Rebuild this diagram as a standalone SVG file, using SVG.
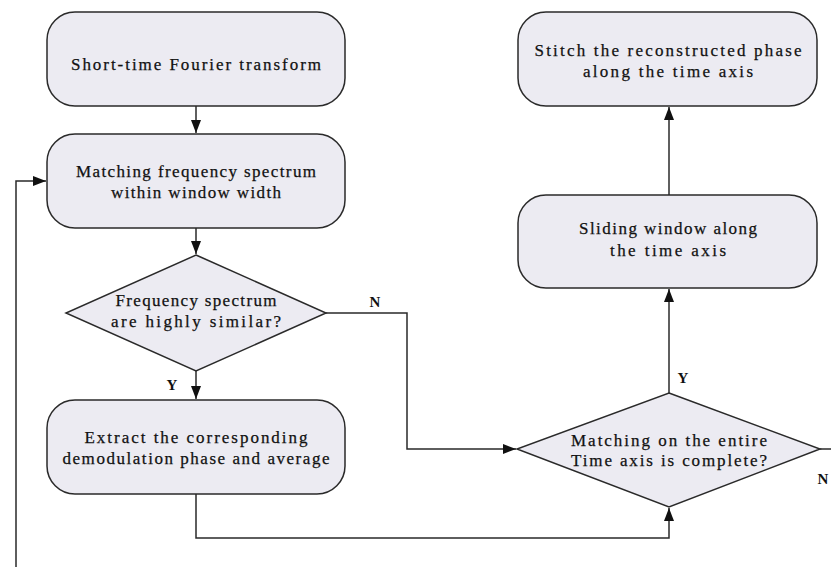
<svg xmlns="http://www.w3.org/2000/svg" width="831" height="567" viewBox="0 0 831 567">
<style>
.node{fill:#ecebf2;stroke:#2a2a2a;stroke-width:1.5}
.t{font-family:"Liberation Serif",serif;font-size:17px;fill:#111;stroke:#111;stroke-width:0.25;text-anchor:middle}
.lbl{font-family:"Liberation Serif",serif;font-size:15px;font-weight:bold;fill:#111;text-anchor:middle}
.c{fill:none;stroke:#2a2a2a;stroke-width:1.5}
</style>
<defs>
<marker id="arr" markerUnits="userSpaceOnUse" markerWidth="14" markerHeight="10" refX="13" refY="5" orient="auto">
<path d="M0,0 L13,5 L0,10 Z" fill="#111"/>
</marker>
</defs>
<rect width="831" height="567" fill="#fff"/>
<g id="connectors">
<path class="c" d="M196,106 V133" marker-end="url(#arr)"/>
<path class="c" d="M196,228 V254" marker-end="url(#arr)"/>
<path class="c" d="M196,371 V399" marker-end="url(#arr)"/>
<path class="c" d="M326,313 H407 V449 H516" marker-end="url(#arr)"/>
<path class="c" d="M196,494 V538 H669 V508" marker-end="url(#arr)"/>
<path class="c" d="M669,393 V289" marker-end="url(#arr)"/>
<path class="c" d="M669,195 V107" marker-end="url(#arr)"/>
<path class="c" d="M820,449 H831"/>
<path class="c" d="M16,567 V181 H46" marker-end="url(#arr)"/>
<text class="lbl" x="375" y="307">N</text>
<text class="lbl" x="172" y="390">Y</text>
<text class="lbl" x="683" y="383">Y</text>
<text class="lbl" x="823" y="484">N</text>
</g>
<g id="stft">
<rect class="node" x="47" y="12" width="298" height="94" rx="28"/>
<text class="t" x="196" y="70" textLength="250" lengthAdjust="spacing">Short-time Fourier transform</text>
</g>
<g id="match">
<rect class="node" x="47" y="134" width="298" height="94" rx="28"/>
<text class="t" x="196" y="177" textLength="240" lengthAdjust="spacing">Matching frequency spectrum</text>
<text class="t" x="196" y="198" textLength="170" lengthAdjust="spacing">within window width</text>
</g>
<g id="similar">
<polygon class="node" points="196,255 326,313 196,371 66,313"/>
<text class="t" x="196" y="306" textLength="161" lengthAdjust="spacing">Frequency spectrum</text>
<text class="t" x="196" y="327" textLength="170" lengthAdjust="spacing">are highly similar?</text>
</g>
<g id="extract">
<rect class="node" x="47" y="400" width="298" height="94" rx="28"/>
<text class="t" x="196" y="443" textLength="223" lengthAdjust="spacing">Extract the corresponding</text>
<text class="t" x="196" y="464" textLength="267" lengthAdjust="spacing">demodulation phase and average</text>
</g>
<g id="complete">
<polygon class="node" points="669,393 820,449 669,507 517,449"/>
<text class="t" x="669" y="446" textLength="196" lengthAdjust="spacing">Matching on the entire</text>
<text class="t" x="669" y="466" textLength="196" lengthAdjust="spacing">Time axis is complete?</text>
</g>
<g id="sliding">
<rect class="node" x="518" y="195" width="299" height="93" rx="28"/>
<text class="t" x="668" y="234" textLength="178" lengthAdjust="spacing">Sliding window along</text>
<text class="t" x="668" y="256" textLength="116" lengthAdjust="spacing">the time axis</text>
</g>
<g id="stitch">
<rect class="node" x="518" y="12" width="299" height="94" rx="28"/>
<text class="t" x="668" y="56" textLength="267" lengthAdjust="spacing">Stitch the reconstructed phase</text>
<text class="t" x="668" y="77" textLength="170" lengthAdjust="spacing">along the time axis</text>
</g>
</svg>
